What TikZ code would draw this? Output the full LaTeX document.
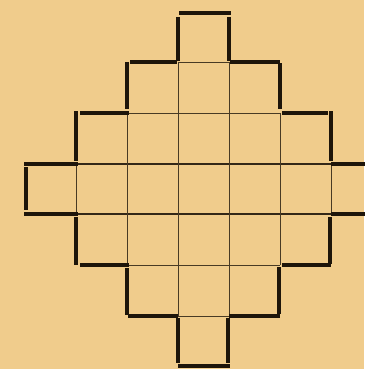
\documentclass[tikz,border=0pt]{standalone}
\usepackage{tikz}
\definecolor{paper}{HTML}{F0CC8C}
\definecolor{ink}{HTML}{1E150A}
\tikzset{
  border/.style={ink, line width=3.6pt},
  inner/.style={ink!80!paper, line width=0.9pt},
  midline/.style={ink!90!paper, line width=1.6pt}
}
\begin{document}
\begin{tikzpicture}[x=1pt,y=-1pt]
\fill[paper] (0,0) rectangle (364,369);
\useasboundingbox (0,0) rectangle (364,369);
% column and row positions
\def\xa{25}\def\xb{76}\def\xc{127}\def\xd{178}\def\xe{229}\def\xf{280}\def\xg{331}\def\xh{382}
\def\ya{13}\def\yb{62}\def\yc{113}\def\yd{164}\def\ye{214}\def\yf{265}\def\yg{316}\def\yh{366}
% inner thin lines
\draw[inner] (\xd,\yb) -- (\xe,\yb);
\draw[inner] (\xc,\yc) -- (\xf,\yc);
\draw[inner] (\xc,\yf) -- (\xf,\yf);
\draw[inner] (\xd,\yg) -- (\xe,\yg);
\draw[midline] (\xb,\yd) -- (\xg,\yd);
\draw[midline] (\xb,\ye) -- (\xg,\ye);
\draw[inner] (\xd,\yb) -- (\xd,\yg);
\draw[inner] (\xe,\yb) -- (\xe,\yg);
\draw[inner] (\xc,\yc) -- (\xc,\yf);
\draw[inner] (\xf,\yc) -- (\xf,\yf);
\draw[inner] (\xb,\yd) -- (\xb,\ye);
\draw[inner] (\xg,\yd) -- (\xg,\ye);
% thick outline segments
\draw[border] (\xd+1,\ya) -- (\xe+2,\ya);
\draw[border] (\xd,\ya+4) -- (\xd,\yb-1);
\draw[border] (\xe,\ya+4) -- (\xe,\yb-1);
\draw[border] (\xc+3,\yb) -- (\xd-1,\yb);
\draw[border] (\xe+1,\yb) -- (\xf,\yb);
\draw[border] (\xc,\yb) -- (\xc,\yc-4);
\draw[border] (\xf,\yb+1) -- (\xf,\yc-4);
\draw[border] (\xb+4,\yc) -- (\xc+2,\yc);
\draw[border] (\xf+2,\yc) -- (\xg-3,\yc);
\draw[border] (\xb,\yc-2) -- (\xb,\yd-3);
\draw[border] (\xg,\yc-2) -- (\xg,\yd-3);
\draw[border] (\xa-1,\yd) -- (\xb+2,\yd);
\draw[border] (\xg,\yd) -- (\xh,\yd);
\draw[border] (\xa+1,\yd+3) -- (\xa+1,\ye-4);
\draw[border] (\xa-1,\ye) -- (\xb+2,\ye);
\draw[border] (\xg,\ye) -- (\xh,\ye);
\draw[border] (\xb,\ye+3) -- (\xb,\yf);
\draw[border] (\xg-1,\ye+3) -- (\xg-1,\yf-1);
\draw[border] (\xb+4,\yf) -- (\xc+2,\yf);
\draw[border] (\xf+2,\yf) -- (\xg,\yf);
\draw[border] (\xc,\yf+3) -- (\xc,\yg-1);
\draw[border] (\xf-1,\yf+2) -- (\xf-1,\yg-2);
\draw[border] (\xc+1,\yg) -- (\xd,\yg);
\draw[border] (\xe,\yg) -- (\xf,\yg);
\draw[border] (\xd,\yg+2) -- (\xd,\yh-3);
\draw[border] (\xe-1,\yg+2) -- (\xe-1,\yh-3);
\draw[border] (\xd,\yh) -- (\xe+1,\yh);
\end{tikzpicture}
\end{document}
